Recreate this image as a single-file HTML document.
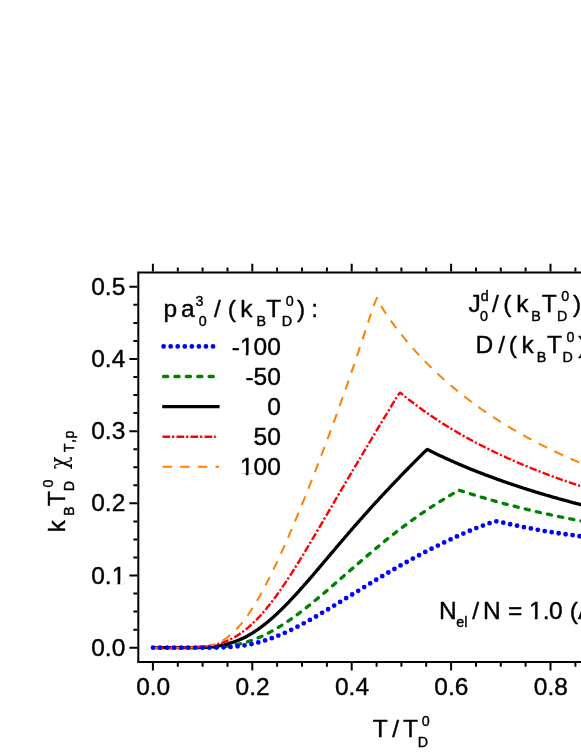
<!DOCTYPE html>
<html><head><meta charset="utf-8"><title>chart</title>
<style>html,body{margin:0;padding:0;background:#fff;}svg{display:block;}text{font-family:'Liberation Sans', sans-serif;fill:#000;stroke:#000;stroke-width:0.4px;stroke-linejoin:round;}</style>
</head><body>
<svg width="581" height="752" viewBox="0 0 581 752">
<rect x="0" y="0" width="581" height="752" fill="#fff"/>
<path d="M153.0 647.7 L154.0 647.7 L155.0 647.7 L156.0 647.7 L157.0 647.7 L158.0 647.7 L159.0 647.7 L160.0 647.7 L161.0 647.7 L162.0 647.7 L163.0 647.7 L164.0 647.7 L165.0 647.7 L166.0 647.7 L167.0 647.7 L168.0 647.7 L169.0 647.7 L170.0 647.7 L171.0 647.7 L172.0 647.7 L173.0 647.7 L174.0 647.7 L175.0 647.7 L176.0 647.7 L177.0 647.7 L178.0 647.7 L179.0 647.7 L180.0 647.7 L181.0 647.7 L182.0 647.7 L183.0 647.7 L184.0 647.7 L185.0 647.7 L186.0 647.7 L187.0 647.7 L188.0 647.7 L189.0 647.7 L190.0 647.7 L191.0 647.7 L192.0 647.7 L193.0 647.7 L194.0 647.7 L195.0 647.7 L196.0 647.7 L197.0 647.7 L198.0 647.7 L199.0 647.7 L200.0 647.7 L201.0 647.6 L202.0 647.6 L203.0 647.6 L204.0 647.6 L205.0 647.6 L206.0 647.6 L207.0 647.6 L208.0 647.5 L209.0 647.5 L210.0 647.5 L211.0 647.4 L212.0 647.4 L213.0 647.4 L214.0 647.3 L215.0 647.3 L216.0 647.2 L217.0 647.1 L218.0 647.1 L219.0 647.0 L220.0 646.9 L221.0 646.8 L222.0 646.7 L223.0 646.6 L224.0 646.5 L225.0 646.4 L226.0 646.3 L227.0 646.2 L228.0 646.1 L229.0 645.9 L230.0 645.8 L231.0 645.6 L232.0 645.5 L233.0 645.3 L234.0 645.1 L235.0 644.9 L236.0 644.7 L237.0 644.5 L238.0 644.3 L239.0 644.1 L240.0 643.8 L241.0 643.6 L242.0 643.3 L243.0 643.1 L244.0 642.8 L245.0 642.5 L246.0 642.2 L247.0 641.9 L248.0 641.6 L249.0 641.3 L250.0 640.9 L251.0 640.6 L252.0 640.2 L253.0 639.9 L254.0 639.5 L255.0 639.1 L256.0 638.7 L257.0 638.3 L258.0 637.9 L259.0 637.5 L260.0 637.1 L261.0 636.6 L262.0 636.2 L263.0 635.7 L264.0 635.2 L265.0 634.7 L266.0 634.2 L267.0 633.7 L268.0 633.2 L269.0 632.7 L270.0 632.2 L271.0 631.6 L272.0 631.1 L273.0 630.5 L274.0 630.0 L275.0 629.4 L276.0 628.8 L277.0 628.2 L278.0 627.6 L279.0 627.0 L280.0 626.4 L281.0 625.8 L282.0 625.1 L283.0 624.5 L284.0 623.8 L285.0 623.2 L286.0 622.5 L287.0 621.9 L288.0 621.2 L289.0 620.5 L290.0 619.8 L291.0 619.1 L292.0 618.4 L293.0 617.7 L294.0 617.0 L295.0 616.2 L296.0 615.5 L297.0 614.8 L298.0 614.0 L299.0 613.3 L300.0 612.5 L301.0 611.8 L302.0 611.0 L303.0 610.2 L304.0 609.4 L305.0 608.7 L306.0 607.9 L307.0 607.1 L308.0 606.3 L309.0 605.5 L310.0 604.7 L311.0 603.9 L312.0 603.1 L313.0 602.3 L314.0 601.4 L315.0 600.6 L316.0 599.8 L317.0 599.0 L318.0 598.1 L319.0 597.3 L320.0 596.5 L321.0 595.6 L322.0 594.8 L323.0 593.9 L324.0 593.1 L325.0 592.2 L326.0 591.4 L327.0 590.5 L328.0 589.7 L329.0 588.8 L330.0 587.9 L331.0 587.1 L332.0 586.2 L333.0 585.4 L334.0 584.5 L335.0 583.6 L336.0 582.8 L337.0 581.9 L338.0 581.0 L339.0 580.2 L340.0 579.3 L341.0 578.4 L342.0 577.5 L343.0 576.7 L344.0 575.8 L345.0 574.9 L346.0 574.1 L347.0 573.2 L348.0 572.3 L349.0 571.4 L350.0 570.6 L351.0 569.7 L352.0 568.8 L353.0 568.0 L354.0 567.1 L355.0 566.2 L356.0 565.4 L357.0 564.5 L358.0 563.6 L359.0 562.8 L360.0 561.9 L361.0 561.0 L362.0 560.2 L363.0 559.3 L364.0 558.5 L365.0 557.6 L366.0 556.8 L367.0 555.9 L368.0 555.1 L369.0 554.2 L370.0 553.4 L371.0 552.5 L372.0 551.7 L373.0 550.8 L374.0 550.0 L375.0 549.2 L376.0 548.3 L377.0 547.5 L378.0 546.7 L379.0 545.8 L380.0 545.0 L381.0 544.2 L382.0 543.4 L383.0 542.6 L384.0 541.8 L385.0 540.9 L386.0 540.1 L387.0 539.3 L388.0 538.5 L389.0 537.7 L390.0 536.9 L391.0 536.2 L392.0 535.4 L393.0 534.6 L394.0 533.8 L395.0 533.0 L396.0 532.2 L397.0 531.5 L398.0 530.7 L399.0 529.9 L400.0 529.2 L401.0 528.4 L402.0 527.6 L403.0 526.9 L404.0 526.1 L405.0 525.4 L406.0 524.7 L407.0 523.9 L408.0 523.2 L409.0 522.4 L410.0 521.7 L411.0 521.0 L412.0 520.3 L413.0 519.5 L414.0 518.8 L415.0 518.1 L416.0 517.4 L417.0 516.7 L418.0 516.0 L419.0 515.3 L420.0 514.6 L421.0 513.9 L422.0 513.2 L423.0 512.6 L424.0 511.9 L425.0 511.2 L426.0 510.5 L427.0 509.9 L428.0 509.2 L429.0 508.5 L430.0 507.9 L431.0 507.2 L432.0 506.6 L433.0 505.9 L434.0 505.3 L435.0 504.7 L436.0 504.0 L437.0 503.4 L438.0 502.8 L439.0 502.1 L440.0 501.5 L441.0 500.9 L442.0 500.3 L443.0 499.7 L444.0 499.1 L445.0 498.4 L446.0 497.8 L447.0 497.2 L448.0 496.6 L449.0 496.0 L450.0 495.4 L451.0 494.8 L452.0 494.2 L453.0 493.6 L454.0 493.0 L455.0 492.4 L456.0 491.8 L457.0 491.1 L458.0 490.4 L458.1 490.2 L459.0 490.3 L460.0 490.6 L461.0 490.9 L462.0 491.2 L463.0 491.5 L464.0 491.8 L465.0 492.1 L466.0 492.4 L467.0 492.7 L468.0 493.1 L469.0 493.4 L470.0 493.7 L471.0 494.0 L472.0 494.3 L473.0 494.6 L474.0 494.9 L475.0 495.2 L476.0 495.5 L477.0 495.8 L478.0 496.1 L479.0 496.4 L480.0 496.7 L481.0 497.0 L482.0 497.3 L483.0 497.6 L484.0 497.9 L485.0 498.2 L486.0 498.5 L487.0 498.8 L488.0 499.1 L489.0 499.4 L490.0 499.7 L491.0 500.0 L492.0 500.2 L493.0 500.5 L494.0 500.8 L495.0 501.1 L496.0 501.4 L497.0 501.7 L498.0 501.9 L499.0 502.2 L500.0 502.5 L501.0 502.8 L502.0 503.0 L503.0 503.3 L504.0 503.6 L505.0 503.8 L506.0 504.1 L507.0 504.4 L508.0 504.6 L509.0 504.9 L510.0 505.2 L511.0 505.4 L512.0 505.7 L513.0 505.9 L514.0 506.2 L515.0 506.4 L516.0 506.7 L517.0 507.0 L518.0 507.2 L519.0 507.5 L520.0 507.7 L521.0 508.0 L522.0 508.2 L523.0 508.4 L524.0 508.7 L525.0 508.9 L526.0 509.2 L527.0 509.4 L528.0 509.7 L529.0 509.9 L530.0 510.1 L531.0 510.4 L532.0 510.6 L533.0 510.8 L534.0 511.1 L535.0 511.3 L536.0 511.5 L537.0 511.8 L538.0 512.0 L539.0 512.2 L540.0 512.5 L541.0 512.7 L542.0 512.9 L543.0 513.1 L544.0 513.3 L545.0 513.6 L546.0 513.8 L547.0 514.0 L548.0 514.2 L549.0 514.4 L550.0 514.7 L551.0 514.9 L552.0 515.1 L553.0 515.3 L554.0 515.5 L555.0 515.7 L556.0 515.9 L557.0 516.1 L558.0 516.4 L559.0 516.6 L560.0 516.8 L561.0 517.0 L562.0 517.2 L563.0 517.4 L564.0 517.6 L565.0 517.8 L566.0 518.0 L567.0 518.2 L568.0 518.4 L569.0 518.6 L570.0 518.8 L571.0 519.0 L572.0 519.2 L573.0 519.4 L574.0 519.6 L575.0 519.7 L576.0 519.9 L577.0 520.1 L578.0 520.3 L579.0 520.5 L580.0 520.7 L581.0 520.9 L582.0 521.1 L583.0 521.3 L584.0 521.4 L585.0 521.6 L586.0 521.8" fill="none" stroke="#008000" stroke-width="3.3" stroke-linecap="round" stroke-linejoin="round" stroke-dasharray="4.2 7.2" stroke-dashoffset="7.62"/>
<path d="M153.0 647.7 L154.0 647.7 L155.0 647.7 L156.0 647.7 L157.0 647.7 L158.0 647.7 L159.0 647.7 L160.0 647.7 L161.0 647.7 L162.0 647.7 L163.0 647.7 L164.0 647.7 L165.0 647.7 L166.0 647.7 L167.0 647.7 L168.0 647.7 L169.0 647.7 L170.0 647.7 L171.0 647.7 L172.0 647.7 L173.0 647.7 L174.0 647.7 L175.0 647.7 L176.0 647.7 L177.0 647.7 L178.0 647.7 L179.0 647.7 L180.0 647.7 L181.0 647.7 L182.0 647.7 L183.0 647.7 L184.0 647.7 L185.0 647.7 L186.0 647.7 L187.0 647.7 L188.0 647.7 L189.0 647.7 L190.0 647.7 L191.0 647.7 L192.0 647.6 L193.0 647.6 L194.0 647.6 L195.0 647.6 L196.0 647.6 L197.0 647.6 L198.0 647.5 L199.0 647.5 L200.0 647.5 L201.0 647.4 L202.0 647.4 L203.0 647.3 L204.0 647.3 L205.0 647.2 L206.0 647.2 L207.0 647.1 L208.0 647.0 L209.0 647.0 L210.0 646.9 L211.0 646.8 L212.0 646.7 L213.0 646.6 L214.0 646.5 L215.0 646.3 L216.0 646.2 L217.0 646.1 L218.0 645.9 L219.0 645.7 L220.0 645.6 L221.0 645.4 L222.0 645.2 L223.0 645.0 L224.0 644.8 L225.0 644.5 L226.0 644.3 L227.0 644.1 L228.0 643.8 L229.0 643.5 L230.0 643.2 L231.0 642.9 L232.0 642.6 L233.0 642.3 L234.0 641.9 L235.0 641.6 L236.0 641.2 L237.0 640.8 L238.0 640.4 L239.0 640.0 L240.0 639.6 L241.0 639.1 L242.0 638.7 L243.0 638.2 L244.0 637.7 L245.0 637.2 L246.0 636.7 L247.0 636.2 L248.0 635.6 L249.0 635.1 L250.0 634.5 L251.0 633.9 L252.0 633.3 L253.0 632.7 L254.0 632.0 L255.0 631.4 L256.0 630.7 L257.0 630.0 L258.0 629.3 L259.0 628.6 L260.0 627.9 L261.0 627.2 L262.0 626.4 L263.0 625.7 L264.0 624.9 L265.0 624.1 L266.0 623.3 L267.0 622.5 L268.0 621.7 L269.0 620.8 L270.0 620.0 L271.0 619.1 L272.0 618.3 L273.0 617.4 L274.0 616.5 L275.0 615.6 L276.0 614.6 L277.0 613.7 L278.0 612.8 L279.0 611.8 L280.0 610.9 L281.0 609.9 L282.0 608.9 L283.0 607.9 L284.0 606.9 L285.0 605.9 L286.0 604.9 L287.0 603.9 L288.0 602.8 L289.0 601.8 L290.0 600.7 L291.0 599.7 L292.0 598.6 L293.0 597.5 L294.0 596.4 L295.0 595.4 L296.0 594.3 L297.0 593.2 L298.0 592.1 L299.0 591.0 L300.0 589.8 L301.0 588.7 L302.0 587.6 L303.0 586.5 L304.0 585.3 L305.0 584.2 L306.0 583.1 L307.0 581.9 L308.0 580.8 L309.0 579.6 L310.0 578.4 L311.0 577.3 L312.0 576.1 L313.0 575.0 L314.0 573.8 L315.0 572.6 L316.0 571.5 L317.0 570.3 L318.0 569.1 L319.0 567.9 L320.0 566.7 L321.0 565.6 L322.0 564.4 L323.0 563.2 L324.0 562.0 L325.0 560.8 L326.0 559.7 L327.0 558.5 L328.0 557.3 L329.0 556.1 L330.0 554.9 L331.0 553.7 L332.0 552.6 L333.0 551.4 L334.0 550.2 L335.0 549.0 L336.0 547.8 L337.0 546.7 L338.0 545.5 L339.0 544.3 L340.0 543.1 L341.0 542.0 L342.0 540.8 L343.0 539.6 L344.0 538.5 L345.0 537.3 L346.0 536.1 L347.0 535.0 L348.0 533.8 L349.0 532.6 L350.0 531.5 L351.0 530.3 L352.0 529.2 L353.0 528.0 L354.0 526.9 L355.0 525.7 L356.0 524.6 L357.0 523.4 L358.0 522.3 L359.0 521.2 L360.0 520.0 L361.0 518.9 L362.0 517.8 L363.0 516.6 L364.0 515.5 L365.0 514.4 L366.0 513.3 L367.0 512.2 L368.0 511.1 L369.0 509.9 L370.0 508.8 L371.0 507.7 L372.0 506.6 L373.0 505.5 L374.0 504.4 L375.0 503.3 L376.0 502.2 L377.0 501.1 L378.0 500.1 L379.0 499.0 L380.0 497.9 L381.0 496.8 L382.0 495.7 L383.0 494.7 L384.0 493.6 L385.0 492.5 L386.0 491.4 L387.0 490.4 L388.0 489.3 L389.0 488.3 L390.0 487.2 L391.0 486.1 L392.0 485.1 L393.0 484.0 L394.0 483.0 L395.0 481.9 L396.0 480.9 L397.0 479.8 L398.0 478.8 L399.0 477.8 L400.0 476.7 L401.0 475.7 L402.0 474.6 L403.0 473.6 L404.0 472.6 L405.0 471.5 L406.0 470.5 L407.0 469.5 L408.0 468.5 L409.0 467.4 L410.0 466.4 L411.0 465.4 L412.0 464.4 L413.0 463.4 L414.0 462.3 L415.0 461.3 L416.0 460.3 L417.0 459.3 L418.0 458.3 L419.0 457.3 L420.0 456.3 L421.0 455.3 L422.0 454.3 L423.0 453.3 L424.0 452.4 L425.0 451.4 L426.0 450.5 L427.0 449.6 L427.3 449.5 L428.0 449.8 L429.0 450.3 L430.0 450.8 L431.0 451.3 L432.0 451.8 L433.0 452.3 L434.0 452.8 L435.0 453.3 L436.0 453.8 L437.0 454.2 L438.0 454.7 L439.0 455.2 L440.0 455.7 L441.0 456.1 L442.0 456.6 L443.0 457.1 L444.0 457.5 L445.0 458.0 L446.0 458.4 L447.0 458.9 L448.0 459.3 L449.0 459.8 L450.0 460.2 L451.0 460.7 L452.0 461.1 L453.0 461.6 L454.0 462.0 L455.0 462.4 L456.0 462.9 L457.0 463.3 L458.0 463.7 L459.0 464.2 L460.0 464.6 L461.0 465.0 L462.0 465.5 L463.0 465.9 L464.0 466.3 L465.0 466.7 L466.0 467.1 L467.0 467.5 L468.0 468.0 L469.0 468.4 L470.0 468.8 L471.0 469.2 L472.0 469.6 L473.0 470.0 L474.0 470.4 L475.0 470.8 L476.0 471.2 L477.0 471.6 L478.0 472.0 L479.0 472.4 L480.0 472.7 L481.0 473.1 L482.0 473.5 L483.0 473.9 L484.0 474.3 L485.0 474.7 L486.0 475.1 L487.0 475.4 L488.0 475.8 L489.0 476.2 L490.0 476.5 L491.0 476.9 L492.0 477.3 L493.0 477.7 L494.0 478.0 L495.0 478.4 L496.0 478.7 L497.0 479.1 L498.0 479.5 L499.0 479.8 L500.0 480.2 L501.0 480.5 L502.0 480.9 L503.0 481.2 L504.0 481.6 L505.0 481.9 L506.0 482.3 L507.0 482.6 L508.0 483.0 L509.0 483.3 L510.0 483.7 L511.0 484.0 L512.0 484.3 L513.0 484.7 L514.0 485.0 L515.0 485.3 L516.0 485.7 L517.0 486.0 L518.0 486.3 L519.0 486.7 L520.0 487.0 L521.0 487.3 L522.0 487.6 L523.0 488.0 L524.0 488.3 L525.0 488.6 L526.0 488.9 L527.0 489.2 L528.0 489.6 L529.0 489.9 L530.0 490.2 L531.0 490.5 L532.0 490.8 L533.0 491.1 L534.0 491.4 L535.0 491.7 L536.0 492.1 L537.0 492.4 L538.0 492.7 L539.0 493.0 L540.0 493.3 L541.0 493.6 L542.0 493.9 L543.0 494.2 L544.0 494.5 L545.0 494.8 L546.0 495.0 L547.0 495.3 L548.0 495.6 L549.0 495.9 L550.0 496.2 L551.0 496.5 L552.0 496.8 L553.0 497.1 L554.0 497.4 L555.0 497.6 L556.0 497.9 L557.0 498.2 L558.0 498.5 L559.0 498.8 L560.0 499.0 L561.0 499.3 L562.0 499.6 L563.0 499.9 L564.0 500.1 L565.0 500.4 L566.0 500.7 L567.0 501.0 L568.0 501.2 L569.0 501.5 L570.0 501.8 L571.0 502.0 L572.0 502.3 L573.0 502.6 L574.0 502.8 L575.0 503.1 L576.0 503.4 L577.0 503.6 L578.0 503.9 L579.0 504.1 L580.0 504.4 L581.0 504.7 L582.0 504.9 L583.0 505.2 L584.0 505.4 L585.0 505.7 L586.0 505.9" fill="none" stroke="#000000" stroke-width="3.3" stroke-linejoin="miter"/>
<path d="M153.0 647.7 L154.0 647.7 L155.0 647.7 L156.0 647.7 L157.0 647.7 L158.0 647.7 L159.0 647.7 L160.0 647.7 L161.0 647.7 L162.0 647.7 L163.0 647.7 L164.0 647.7 L165.0 647.7 L166.0 647.7 L167.0 647.7 L168.0 647.7 L169.0 647.7 L170.0 647.7 L171.0 647.7 L172.0 647.7 L173.0 647.7 L174.0 647.7 L175.0 647.7 L176.0 647.7 L177.0 647.7 L178.0 647.7 L179.0 647.7 L180.0 647.7 L181.0 647.6 L182.0 647.6 L183.0 647.6 L184.0 647.6 L185.0 647.6 L186.0 647.6 L187.0 647.6 L188.0 647.5 L189.0 647.5 L190.0 647.5 L191.0 647.5 L192.0 647.4 L193.0 647.4 L194.0 647.3 L195.0 647.3 L196.0 647.2 L197.0 647.2 L198.0 647.1 L199.0 647.0 L200.0 647.0 L201.0 646.9 L202.0 646.8 L203.0 646.7 L204.0 646.6 L205.0 646.5 L206.0 646.3 L207.0 646.2 L208.0 646.1 L209.0 645.9 L210.0 645.7 L211.0 645.6 L212.0 645.4 L213.0 645.2 L214.0 645.0 L215.0 644.7 L216.0 644.5 L217.0 644.2 L218.0 644.0 L219.0 643.7 L220.0 643.4 L221.0 643.1 L222.0 642.8 L223.0 642.4 L224.0 642.1 L225.0 641.7 L226.0 641.3 L227.0 640.9 L228.0 640.4 L229.0 640.0 L230.0 639.5 L231.0 639.0 L232.0 638.5 L233.0 638.0 L234.0 637.4 L235.0 636.9 L236.0 636.3 L237.0 635.7 L238.0 635.0 L239.0 634.4 L240.0 633.7 L241.0 633.0 L242.0 632.3 L243.0 631.6 L244.0 630.8 L245.0 630.1 L246.0 629.3 L247.0 628.5 L248.0 627.6 L249.0 626.8 L250.0 625.9 L251.0 625.0 L252.0 624.1 L253.0 623.1 L254.0 622.2 L255.0 621.2 L256.0 620.2 L257.0 619.2 L258.0 618.1 L259.0 617.0 L260.0 616.0 L261.0 614.9 L262.0 613.7 L263.0 612.6 L264.0 611.4 L265.0 610.3 L266.0 609.1 L267.0 607.8 L268.0 606.6 L269.0 605.4 L270.0 604.1 L271.0 602.8 L272.0 601.5 L273.0 600.2 L274.0 598.9 L275.0 597.5 L276.0 596.2 L277.0 594.8 L278.0 593.4 L279.0 592.0 L280.0 590.6 L281.0 589.1 L282.0 587.7 L283.0 586.2 L284.0 584.7 L285.0 583.3 L286.0 581.8 L287.0 580.2 L288.0 578.7 L289.0 577.2 L290.0 575.7 L291.0 574.1 L292.0 572.6 L293.0 571.0 L294.0 569.4 L295.0 567.8 L296.0 566.2 L297.0 564.6 L298.0 563.0 L299.0 561.4 L300.0 559.8 L301.0 558.1 L302.0 556.5 L303.0 554.9 L304.0 553.2 L305.0 551.6 L306.0 549.9 L307.0 548.2 L308.0 546.6 L309.0 544.9 L310.0 543.2 L311.0 541.5 L312.0 539.8 L313.0 538.2 L314.0 536.5 L315.0 534.8 L316.0 533.1 L317.0 531.4 L318.0 529.7 L319.0 528.0 L320.0 526.3 L321.0 524.6 L322.0 522.9 L323.0 521.2 L324.0 519.4 L325.0 517.7 L326.0 516.0 L327.0 514.3 L328.0 512.6 L329.0 510.9 L330.0 509.2 L331.0 507.5 L332.0 505.8 L333.0 504.0 L334.0 502.3 L335.0 500.6 L336.0 498.9 L337.0 497.2 L338.0 495.5 L339.0 493.8 L340.0 492.1 L341.0 490.4 L342.0 488.7 L343.0 487.0 L344.0 485.3 L345.0 483.6 L346.0 481.9 L347.0 480.2 L348.0 478.5 L349.0 476.8 L350.0 475.1 L351.0 473.4 L352.0 471.7 L353.0 470.0 L354.0 468.3 L355.0 466.7 L356.0 465.0 L357.0 463.3 L358.0 461.6 L359.0 459.9 L360.0 458.2 L361.0 456.6 L362.0 454.9 L363.0 453.2 L364.0 451.5 L365.0 449.9 L366.0 448.2 L367.0 446.5 L368.0 444.8 L369.0 443.2 L370.0 441.5 L371.0 439.8 L372.0 438.2 L373.0 436.5 L374.0 434.8 L375.0 433.2 L376.0 431.5 L377.0 429.8 L378.0 428.1 L379.0 426.5 L380.0 424.8 L381.0 423.2 L382.0 421.5 L383.0 419.8 L384.0 418.2 L385.0 416.5 L386.0 414.8 L387.0 413.2 L388.0 411.5 L389.0 409.9 L390.0 408.2 L391.0 406.6 L392.0 404.9 L393.0 403.3 L394.0 401.7 L395.0 400.0 L396.0 398.4 L397.0 396.9 L398.0 395.3 L399.0 393.9 L400.0 392.6 L400.3 392.6 L401.0 393.3 L402.0 394.1 L403.0 394.9 L404.0 395.8 L405.0 396.6 L406.0 397.4 L407.0 398.2 L408.0 399.0 L409.0 399.8 L410.0 400.5 L411.0 401.3 L412.0 402.1 L413.0 402.8 L414.0 403.6 L415.0 404.3 L416.0 405.1 L417.0 405.8 L418.0 406.6 L419.0 407.3 L420.0 408.0 L421.0 408.8 L422.0 409.5 L423.0 410.2 L424.0 410.9 L425.0 411.6 L426.0 412.3 L427.0 413.0 L428.0 413.7 L429.0 414.4 L430.0 415.1 L431.0 415.8 L432.0 416.4 L433.0 417.1 L434.0 417.8 L435.0 418.4 L436.0 419.1 L437.0 419.8 L438.0 420.4 L439.0 421.1 L440.0 421.7 L441.0 422.3 L442.0 423.0 L443.0 423.6 L444.0 424.2 L445.0 424.9 L446.0 425.5 L447.0 426.1 L448.0 426.7 L449.0 427.3 L450.0 428.0 L451.0 428.6 L452.0 429.2 L453.0 429.8 L454.0 430.4 L455.0 430.9 L456.0 431.5 L457.0 432.1 L458.0 432.7 L459.0 433.3 L460.0 433.9 L461.0 434.4 L462.0 435.0 L463.0 435.6 L464.0 436.1 L465.0 436.7 L466.0 437.3 L467.0 437.8 L468.0 438.4 L469.0 438.9 L470.0 439.5 L471.0 440.0 L472.0 440.5 L473.0 441.1 L474.0 441.6 L475.0 442.1 L476.0 442.7 L477.0 443.2 L478.0 443.7 L479.0 444.2 L480.0 444.8 L481.0 445.3 L482.0 445.8 L483.0 446.3 L484.0 446.8 L485.0 447.3 L486.0 447.8 L487.0 448.3 L488.0 448.8 L489.0 449.3 L490.0 449.8 L491.0 450.3 L492.0 450.8 L493.0 451.3 L494.0 451.7 L495.0 452.2 L496.0 452.7 L497.0 453.2 L498.0 453.7 L499.0 454.1 L500.0 454.6 L501.0 455.1 L502.0 455.5 L503.0 456.0 L504.0 456.4 L505.0 456.9 L506.0 457.4 L507.0 457.8 L508.0 458.3 L509.0 458.7 L510.0 459.2 L511.0 459.6 L512.0 460.0 L513.0 460.5 L514.0 460.9 L515.0 461.4 L516.0 461.8 L517.0 462.2 L518.0 462.7 L519.0 463.1 L520.0 463.5 L521.0 463.9 L522.0 464.4 L523.0 464.8 L524.0 465.2 L525.0 465.6 L526.0 466.0 L527.0 466.4 L528.0 466.9 L529.0 467.3 L530.0 467.7 L531.0 468.1 L532.0 468.5 L533.0 468.9 L534.0 469.3 L535.0 469.7 L536.0 470.1 L537.0 470.5 L538.0 470.9 L539.0 471.2 L540.0 471.6 L541.0 472.0 L542.0 472.4 L543.0 472.8 L544.0 473.2 L545.0 473.6 L546.0 473.9 L547.0 474.3 L548.0 474.7 L549.0 475.1 L550.0 475.4 L551.0 475.8 L552.0 476.2 L553.0 476.5 L554.0 476.9 L555.0 477.3 L556.0 477.6 L557.0 478.0 L558.0 478.4 L559.0 478.7 L560.0 479.1 L561.0 479.4 L562.0 479.8 L563.0 480.1 L564.0 480.5 L565.0 480.8 L566.0 481.2 L567.0 481.5 L568.0 481.9 L569.0 482.2 L570.0 482.6 L571.0 482.9 L572.0 483.2 L573.0 483.6 L574.0 483.9 L575.0 484.2 L576.0 484.6 L577.0 484.9 L578.0 485.2 L579.0 485.6 L580.0 485.9 L581.0 486.2 L582.0 486.6 L583.0 486.9 L584.0 487.2 L585.0 487.5 L586.0 487.8" fill="none" stroke="#ff0000" stroke-width="2.4" stroke-linejoin="round" stroke-dasharray="7.6 2 2.2 2.2" stroke-dashoffset="1.12"/>
<path d="M153.0 647.7 L154.0 647.7 L155.0 647.7 L156.0 647.7 L157.0 647.7 L158.0 647.7 L159.0 647.7 L160.0 647.7 L161.0 647.7 L162.0 647.7 L163.0 647.7 L164.0 647.7 L165.0 647.7 L166.0 647.7 L167.0 647.7 L168.0 647.7 L169.0 647.7 L170.0 647.7 L171.0 647.7 L172.0 647.7 L173.0 647.7 L174.0 647.7 L175.0 647.7 L176.0 647.7 L177.0 647.7 L178.0 647.7 L179.0 647.7 L180.0 647.7 L181.0 647.7 L182.0 647.7 L183.0 647.7 L184.0 647.7 L185.0 647.7 L186.0 647.7 L187.0 647.7 L188.0 647.7 L189.0 647.7 L190.0 647.6 L191.0 647.6 L192.0 647.6 L193.0 647.6 L194.0 647.6 L195.0 647.5 L196.0 647.5 L197.0 647.4 L198.0 647.4 L199.0 647.3 L200.0 647.2 L201.0 647.1 L202.0 647.0 L203.0 646.9 L204.0 646.8 L205.0 646.6 L206.0 646.5 L207.0 646.3 L208.0 646.1 L209.0 645.9 L210.0 645.7 L211.0 645.4 L212.0 645.1 L213.0 644.8 L214.0 644.5 L215.0 644.1 L216.0 643.7 L217.0 643.3 L218.0 642.9 L219.0 642.4 L220.0 641.9 L221.0 641.4 L222.0 640.9 L223.0 640.3 L224.0 639.7 L225.0 639.0 L226.0 638.3 L227.0 637.6 L228.0 636.9 L229.0 636.1 L230.0 635.3 L231.0 634.4 L232.0 633.5 L233.0 632.6 L234.0 631.7 L235.0 630.7 L236.0 629.7 L237.0 628.6 L238.0 627.5 L239.0 626.4 L240.0 625.2 L241.0 624.1 L242.0 622.8 L243.0 621.6 L244.0 620.3 L245.0 619.0 L246.0 617.6 L247.0 616.2 L248.0 614.8 L249.0 613.3 L250.0 611.9 L251.0 610.4 L252.0 608.8 L253.0 607.2 L254.0 605.6 L255.0 604.0 L256.0 602.4 L257.0 600.7 L258.0 599.0 L259.0 597.2 L260.0 595.5 L261.0 593.7 L262.0 591.9 L263.0 590.0 L264.0 588.2 L265.0 586.3 L266.0 584.4 L267.0 582.5 L268.0 580.5 L269.0 578.5 L270.0 576.5 L271.0 574.5 L272.0 572.5 L273.0 570.4 L274.0 568.4 L275.0 566.3 L276.0 564.2 L277.0 562.1 L278.0 559.9 L279.0 557.8 L280.0 555.6 L281.0 553.4 L282.0 551.2 L283.0 549.0 L284.0 546.7 L285.0 544.5 L286.0 542.2 L287.0 540.0 L288.0 537.7 L289.0 535.4 L290.0 533.1 L291.0 530.7 L292.0 528.4 L293.0 526.0 L294.0 523.7 L295.0 521.3 L296.0 518.9 L297.0 516.5 L298.0 514.1 L299.0 511.7 L300.0 509.3 L301.0 506.9 L302.0 504.4 L303.0 502.0 L304.0 499.5 L305.0 497.0 L306.0 494.6 L307.0 492.1 L308.0 489.6 L309.0 487.1 L310.0 484.5 L311.0 482.0 L312.0 479.5 L313.0 477.0 L314.0 474.4 L315.0 471.8 L316.0 469.3 L317.0 466.7 L318.0 464.1 L319.0 461.5 L320.0 458.9 L321.0 456.3 L322.0 453.7 L323.0 451.1 L324.0 448.4 L325.0 445.8 L326.0 443.1 L327.0 440.5 L328.0 437.8 L329.0 435.1 L330.0 432.4 L331.0 429.7 L332.0 427.0 L333.0 424.3 L334.0 421.6 L335.0 418.8 L336.0 416.1 L337.0 413.3 L338.0 410.6 L339.0 407.8 L340.0 405.0 L341.0 402.2 L342.0 399.4 L343.0 396.6 L344.0 393.7 L345.0 390.9 L346.0 388.1 L347.0 385.2 L348.0 382.3 L349.0 379.4 L350.0 376.5 L351.0 373.6 L352.0 370.7 L353.0 367.8 L354.0 364.8 L355.0 361.9 L356.0 358.9 L357.0 356.0 L358.0 353.0 L359.0 350.0 L360.0 347.0 L361.0 344.0 L362.0 341.0 L363.0 337.9 L364.0 334.9 L365.0 331.9 L366.0 328.8 L367.0 325.8 L368.0 322.8 L369.0 319.7 L370.0 316.7 L371.0 313.7 L372.0 310.8 L373.0 307.9 L374.0 305.0 L375.0 302.3 L376.0 299.8 L377.0 297.9 L377.5 298.5 L378.0 300.1 L379.0 302.2 L380.0 304.0 L381.0 305.8 L382.0 307.4 L383.0 309.0 L384.0 310.6 L385.0 312.2 L386.0 313.7 L387.0 315.2 L388.0 316.6 L389.0 318.1 L390.0 319.5 L391.0 320.9 L392.0 322.3 L393.0 323.7 L394.0 325.1 L395.0 326.4 L396.0 327.7 L397.0 329.0 L398.0 330.3 L399.0 331.6 L400.0 332.9 L401.0 334.2 L402.0 335.4 L403.0 336.7 L404.0 337.9 L405.0 339.1 L406.0 340.3 L407.0 341.5 L408.0 342.7 L409.0 343.9 L410.0 345.0 L411.0 346.2 L412.0 347.3 L413.0 348.4 L414.0 349.6 L415.0 350.7 L416.0 351.8 L417.0 352.9 L418.0 354.0 L419.0 355.0 L420.0 356.1 L421.0 357.2 L422.0 358.2 L423.0 359.3 L424.0 360.3 L425.0 361.3 L426.0 362.4 L427.0 363.4 L428.0 364.4 L429.0 365.4 L430.0 366.4 L431.0 367.3 L432.0 368.3 L433.0 369.3 L434.0 370.2 L435.0 371.2 L436.0 372.2 L437.0 373.1 L438.0 374.0 L439.0 375.0 L440.0 375.9 L441.0 376.8 L442.0 377.7 L443.0 378.6 L444.0 379.5 L445.0 380.4 L446.0 381.3 L447.0 382.1 L448.0 383.0 L449.0 383.9 L450.0 384.7 L451.0 385.6 L452.0 386.4 L453.0 387.3 L454.0 388.1 L455.0 388.9 L456.0 389.8 L457.0 390.6 L458.0 391.4 L459.0 392.2 L460.0 393.0 L461.0 393.8 L462.0 394.6 L463.0 395.4 L464.0 396.2 L465.0 397.0 L466.0 397.7 L467.0 398.5 L468.0 399.3 L469.0 400.0 L470.0 400.8 L471.0 401.5 L472.0 402.3 L473.0 403.0 L474.0 403.8 L475.0 404.5 L476.0 405.2 L477.0 405.9 L478.0 406.7 L479.0 407.4 L480.0 408.1 L481.0 408.8 L482.0 409.5 L483.0 410.2 L484.0 410.9 L485.0 411.6 L486.0 412.3 L487.0 412.9 L488.0 413.6 L489.0 414.3 L490.0 415.0 L491.0 415.6 L492.0 416.3 L493.0 416.9 L494.0 417.6 L495.0 418.3 L496.0 418.9 L497.0 419.5 L498.0 420.2 L499.0 420.8 L500.0 421.5 L501.0 422.1 L502.0 422.7 L503.0 423.3 L504.0 423.9 L505.0 424.6 L506.0 425.2 L507.0 425.8 L508.0 426.4 L509.0 427.0 L510.0 427.6 L511.0 428.2 L512.0 428.8 L513.0 429.4 L514.0 429.9 L515.0 430.5 L516.0 431.1 L517.0 431.7 L518.0 432.3 L519.0 432.8 L520.0 433.4 L521.0 434.0 L522.0 434.5 L523.0 435.1 L524.0 435.6 L525.0 436.2 L526.0 436.7 L527.0 437.3 L528.0 437.8 L529.0 438.4 L530.0 438.9 L531.0 439.4 L532.0 440.0 L533.0 440.5 L534.0 441.0 L535.0 441.6 L536.0 442.1 L537.0 442.6 L538.0 443.1 L539.0 443.6 L540.0 444.1 L541.0 444.7 L542.0 445.2 L543.0 445.7 L544.0 446.2 L545.0 446.7 L546.0 447.2 L547.0 447.7 L548.0 448.1 L549.0 448.6 L550.0 449.1 L551.0 449.6 L552.0 450.1 L553.0 450.6 L554.0 451.0 L555.0 451.5 L556.0 452.0 L557.0 452.5 L558.0 452.9 L559.0 453.4 L560.0 453.9 L561.0 454.3 L562.0 454.8 L563.0 455.2 L564.0 455.7 L565.0 456.2 L566.0 456.6 L567.0 457.1 L568.0 457.5 L569.0 457.9 L570.0 458.4 L571.0 458.8 L572.0 459.3 L573.0 459.7 L574.0 460.1 L575.0 460.6 L576.0 461.0 L577.0 461.4 L578.0 461.9 L579.0 462.3 L580.0 462.7 L581.0 463.1 L582.0 463.6 L583.0 464.0 L584.0 464.4 L585.0 464.8 L586.0 465.2" fill="none" stroke="#ff8000" stroke-width="2" stroke-linejoin="round" stroke-dasharray="9.4 8.25" stroke-dashoffset="17.39"/>
<path d="M153.0 647.7 L154.0 647.7 L155.0 647.7 L156.0 647.7 L157.0 647.7 L158.0 647.7 L159.0 647.7 L160.0 647.7 L161.0 647.7 L162.0 647.7 L163.0 647.7 L164.0 647.7 L165.0 647.7 L166.0 647.7 L167.0 647.7 L168.0 647.7 L169.0 647.7 L170.0 647.7 L171.0 647.7 L172.0 647.7 L173.0 647.7 L174.0 647.7 L175.0 647.7 L176.0 647.7 L177.0 647.7 L178.0 647.7 L179.0 647.7 L180.0 647.7 L181.0 647.7 L182.0 647.7 L183.0 647.7 L184.0 647.7 L185.0 647.7 L186.0 647.7 L187.0 647.7 L188.0 647.7 L189.0 647.7 L190.0 647.7 L191.0 647.7 L192.0 647.7 L193.0 647.7 L194.0 647.7 L195.0 647.7 L196.0 647.7 L197.0 647.7 L198.0 647.7 L199.0 647.7 L200.0 647.7 L201.0 647.7 L202.0 647.7 L203.0 647.7 L204.0 647.7 L205.0 647.7 L206.0 647.7 L207.0 647.7 L208.0 647.7 L209.0 647.7 L210.0 647.7 L211.0 647.6 L212.0 647.6 L213.0 647.6 L214.0 647.6 L215.0 647.6 L216.0 647.6 L217.0 647.6 L218.0 647.5 L219.0 647.5 L220.0 647.5 L221.0 647.5 L222.0 647.4 L223.0 647.4 L224.0 647.3 L225.0 647.3 L226.0 647.2 L227.0 647.2 L228.0 647.1 L229.0 647.1 L230.0 647.0 L231.0 646.9 L232.0 646.8 L233.0 646.8 L234.0 646.7 L235.0 646.6 L236.0 646.5 L237.0 646.4 L238.0 646.3 L239.0 646.1 L240.0 646.0 L241.0 645.9 L242.0 645.7 L243.0 645.6 L244.0 645.4 L245.0 645.3 L246.0 645.1 L247.0 644.9 L248.0 644.7 L249.0 644.6 L250.0 644.4 L251.0 644.2 L252.0 643.9 L253.0 643.7 L254.0 643.5 L255.0 643.3 L256.0 643.0 L257.0 642.8 L258.0 642.5 L259.0 642.2 L260.0 642.0 L261.0 641.7 L262.0 641.4 L263.0 641.1 L264.0 640.8 L265.0 640.5 L266.0 640.2 L267.0 639.8 L268.0 639.5 L269.0 639.1 L270.0 638.8 L271.0 638.4 L272.0 638.1 L273.0 637.7 L274.0 637.3 L275.0 636.9 L276.0 636.6 L277.0 636.2 L278.0 635.7 L279.0 635.3 L280.0 634.9 L281.0 634.5 L282.0 634.1 L283.0 633.6 L284.0 633.2 L285.0 632.7 L286.0 632.3 L287.0 631.8 L288.0 631.4 L289.0 630.9 L290.0 630.4 L291.0 629.9 L292.0 629.4 L293.0 628.9 L294.0 628.4 L295.0 627.9 L296.0 627.4 L297.0 626.9 L298.0 626.4 L299.0 625.9 L300.0 625.4 L301.0 624.8 L302.0 624.3 L303.0 623.8 L304.0 623.2 L305.0 622.7 L306.0 622.1 L307.0 621.6 L308.0 621.0 L309.0 620.5 L310.0 619.9 L311.0 619.3 L312.0 618.8 L313.0 618.2 L314.0 617.6 L315.0 617.0 L316.0 616.5 L317.0 615.9 L318.0 615.3 L319.0 614.7 L320.0 614.1 L321.0 613.5 L322.0 612.9 L323.0 612.3 L324.0 611.7 L325.0 611.1 L326.0 610.5 L327.0 609.9 L328.0 609.3 L329.0 608.7 L330.0 608.1 L331.0 607.5 L332.0 606.9 L333.0 606.3 L334.0 605.7 L335.0 605.1 L336.0 604.5 L337.0 603.9 L338.0 603.2 L339.0 602.6 L340.0 602.0 L341.0 601.4 L342.0 600.8 L343.0 600.2 L344.0 599.5 L345.0 598.9 L346.0 598.3 L347.0 597.7 L348.0 597.1 L349.0 596.4 L350.0 595.8 L351.0 595.2 L352.0 594.6 L353.0 594.0 L354.0 593.3 L355.0 592.7 L356.0 592.1 L357.0 591.5 L358.0 590.9 L359.0 590.3 L360.0 589.6 L361.0 589.0 L362.0 588.4 L363.0 587.8 L364.0 587.2 L365.0 586.6 L366.0 586.0 L367.0 585.3 L368.0 584.7 L369.0 584.1 L370.0 583.5 L371.0 582.9 L372.0 582.3 L373.0 581.7 L374.0 581.1 L375.0 580.5 L376.0 579.9 L377.0 579.3 L378.0 578.7 L379.0 578.1 L380.0 577.5 L381.0 576.9 L382.0 576.3 L383.0 575.7 L384.0 575.1 L385.0 574.5 L386.0 573.9 L387.0 573.3 L388.0 572.7 L389.0 572.1 L390.0 571.6 L391.0 571.0 L392.0 570.4 L393.0 569.8 L394.0 569.2 L395.0 568.7 L396.0 568.1 L397.0 567.5 L398.0 566.9 L399.0 566.4 L400.0 565.8 L401.0 565.2 L402.0 564.6 L403.0 564.1 L404.0 563.5 L405.0 563.0 L406.0 562.4 L407.0 561.8 L408.0 561.3 L409.0 560.7 L410.0 560.2 L411.0 559.6 L412.0 559.1 L413.0 558.5 L414.0 558.0 L415.0 557.4 L416.0 556.9 L417.0 556.4 L418.0 555.8 L419.0 555.3 L420.0 554.8 L421.0 554.2 L422.0 553.7 L423.0 553.2 L424.0 552.6 L425.0 552.1 L426.0 551.6 L427.0 551.1 L428.0 550.5 L429.0 550.0 L430.0 549.5 L431.0 549.0 L432.0 548.5 L433.0 548.0 L434.0 547.5 L435.0 547.0 L436.0 546.5 L437.0 546.0 L438.0 545.5 L439.0 545.0 L440.0 544.5 L441.0 544.0 L442.0 543.5 L443.0 543.0 L444.0 542.5 L445.0 542.1 L446.0 541.6 L447.0 541.1 L448.0 540.6 L449.0 540.1 L450.0 539.7 L451.0 539.2 L452.0 538.7 L453.0 538.3 L454.0 537.8 L455.0 537.3 L456.0 536.9 L457.0 536.4 L458.0 536.0 L459.0 535.5 L460.0 535.1 L461.0 534.6 L462.0 534.2 L463.0 533.7 L464.0 533.3 L465.0 532.9 L466.0 532.4 L467.0 532.0 L468.0 531.6 L469.0 531.1 L470.0 530.7 L471.0 530.3 L472.0 529.9 L473.0 529.5 L474.0 529.1 L475.0 528.6 L476.0 528.2 L477.0 527.8 L478.0 527.4 L479.0 527.0 L480.0 526.6 L481.0 526.3 L482.0 525.9 L483.0 525.5 L484.0 525.1 L485.0 524.7 L486.0 524.4 L487.0 524.0 L488.0 523.7 L489.0 523.3 L490.0 523.0 L491.0 522.6 L492.0 522.3 L493.0 522.0 L494.0 521.7 L495.0 521.5 L496.0 521.3 L496.5 521.4 L497.0 521.4 L498.0 521.6 L499.0 521.8 L500.0 522.0 L501.0 522.2 L502.0 522.4 L503.0 522.6 L504.0 522.9 L505.0 523.1 L506.0 523.3 L507.0 523.5 L508.0 523.8 L509.0 524.0 L510.0 524.2 L511.0 524.4 L512.0 524.6 L513.0 524.9 L514.0 525.1 L515.0 525.3 L516.0 525.5 L517.0 525.7 L518.0 525.9 L519.0 526.1 L520.0 526.3 L521.0 526.6 L522.0 526.8 L523.0 527.0 L524.0 527.2 L525.0 527.4 L526.0 527.6 L527.0 527.8 L528.0 528.0 L529.0 528.2 L530.0 528.3 L531.0 528.5 L532.0 528.7 L533.0 528.9 L534.0 529.1 L535.0 529.3 L536.0 529.5 L537.0 529.7 L538.0 529.8 L539.0 530.0 L540.0 530.2 L541.0 530.4 L542.0 530.6 L543.0 530.7 L544.0 530.9 L545.0 531.1 L546.0 531.2 L547.0 531.4 L548.0 531.6 L549.0 531.7 L550.0 531.9 L551.0 532.1 L552.0 532.2 L553.0 532.4 L554.0 532.5 L555.0 532.7 L556.0 532.9 L557.0 533.0 L558.0 533.2 L559.0 533.3 L560.0 533.5 L561.0 533.6 L562.0 533.8 L563.0 533.9 L564.0 534.0 L565.0 534.2 L566.0 534.3 L567.0 534.5 L568.0 534.6 L569.0 534.7 L570.0 534.9 L571.0 535.0 L572.0 535.1 L573.0 535.3 L574.0 535.4 L575.0 535.5 L576.0 535.7 L577.0 535.8 L578.0 535.9 L579.0 536.1 L580.0 536.2 L581.0 536.3 L582.0 536.4 L583.0 536.5 L584.0 536.7 L585.0 536.8 L586.0 536.9" fill="none" stroke="#0000ff" stroke-width="4.8" stroke-linecap="round" stroke-dasharray="0 7.0536"/>
<g stroke="#000" stroke-width="2" fill="none" stroke-linecap="butt">
<path d="M137.3 272.4 H600"/>
<path d="M137.3 661.9 H600"/>
<path d="M138.3 272.4 V661.9"/>
<path d="M152.9 662.9 v7.7 M152.9 271.4 v-7.7 M177.8 662.9 v3.9 M177.8 271.4 v-3.9 M202.6 662.9 v3.9 M202.6 271.4 v-3.9 M227.5 662.9 v3.9 M227.5 271.4 v-3.9 M252.3 662.9 v7.7 M252.3 271.4 v-7.7 M277.1 662.9 v3.9 M277.1 271.4 v-3.9 M302.0 662.9 v3.9 M302.0 271.4 v-3.9 M326.9 662.9 v3.9 M326.9 271.4 v-3.9 M351.7 662.9 v7.7 M351.7 271.4 v-7.7 M376.6 662.9 v3.9 M376.6 271.4 v-3.9 M401.4 662.9 v3.9 M401.4 271.4 v-3.9 M426.2 662.9 v3.9 M426.2 271.4 v-3.9 M451.1 662.9 v7.7 M451.1 271.4 v-7.7 M476.0 662.9 v3.9 M476.0 271.4 v-3.9 M500.8 662.9 v3.9 M500.8 271.4 v-3.9 M525.6 662.9 v3.9 M525.6 271.4 v-3.9 M550.5 662.9 v7.7 M550.5 271.4 v-7.7 M575.4 662.9 v3.9 M575.4 271.4 v-3.9 M137.3 647.7 h-7.9 M137.3 629.7 h-3.9 M137.3 611.6 h-3.9 M137.3 593.6 h-3.9 M137.3 575.5 h-7.9 M137.3 557.5 h-3.9 M137.3 539.4 h-3.9 M137.3 521.4 h-3.9 M137.3 503.3 h-7.9 M137.3 485.3 h-3.9 M137.3 467.3 h-3.9 M137.3 449.2 h-3.9 M137.3 431.2 h-7.9 M137.3 413.1 h-3.9 M137.3 395.1 h-3.9 M137.3 377.0 h-3.9 M137.3 359.0 h-7.9 M137.3 340.9 h-3.9 M137.3 322.9 h-3.9 M137.3 304.8 h-3.9 M137.3 286.8 h-7.9"/>
</g>
<g font-size="24.5">
<text x="125.3" y="655.7" text-anchor="end">0.0</text>
<text x="125.3" y="583.5" text-anchor="end">0.1</text>
<text x="125.3" y="511.3" text-anchor="end">0.2</text>
<text x="125.3" y="439.2" text-anchor="end">0.3</text>
<text x="125.3" y="367.0" text-anchor="end">0.4</text>
<text x="125.3" y="294.8" text-anchor="end">0.5</text>
<text x="153.2" y="694.7" text-anchor="middle">0.0</text>
<text x="252.6" y="694.7" text-anchor="middle">0.2</text>
<text x="352.0" y="694.7" text-anchor="middle">0.4</text>
<text x="451.4" y="694.7" text-anchor="middle">0.6</text>
<text x="550.8" y="694.7" text-anchor="middle">0.8</text>
</g>
<text x="372.7" y="737.3" font-size="24.5">T</text>
<text x="392.2" y="737.3" font-size="24.5">/</text>
<text x="402.9" y="737.3" font-size="24.5">T</text>
<text x="417.7" y="746.5" font-size="14.3">D</text>
<text x="421.7" y="726.0" font-size="14.3">0</text>
<text x="163.4" y="317.1" font-size="24.5">p</text>
<text x="181.1" y="317.1" font-size="24.5">a</text>
<text x="195.4" y="306.3" font-size="14.3">3</text>
<text x="198.7" y="325.6" font-size="14.3">0</text>
<text x="214.0" y="317.1" font-size="24.5">/</text>
<text x="227.8" y="317.1" font-size="24.5">(</text>
<text x="240.3" y="317.1" font-size="24.5">k</text>
<text x="256.4" y="325.6" font-size="14.3">B</text>
<text x="266.2" y="317.1" font-size="24.5">T</text>
<text x="281.8" y="325.6" font-size="14.3">D</text>
<text x="285.7" y="306.3" font-size="14.3">0</text>
<text x="296.9" y="317.1" font-size="24.5">)</text>
<text x="311.2" y="317.1" font-size="24.5">:</text>
<g fill="none">
<path d="M163.6 346.4 H214" stroke="#0000ff" stroke-width="4.8" stroke-linecap="round" stroke-dasharray="0 7.06"/>
<path d="M163.5 376.5 H214" stroke="#008000" stroke-width="3.3" stroke-linecap="round" stroke-linejoin="round" stroke-dasharray="4.2 7.2"/>
<path d="M162.2 406.6 H219.6" stroke="#000000" stroke-width="3.3" stroke-linejoin="miter"/>
<path d="M162.5 436.7 H215.8" stroke="#ff0000" stroke-width="2.4" stroke-linejoin="round" stroke-dasharray="7.6 2 2.2 2.2"/>
<path d="M162.5 466.8 H219" stroke="#ff8000" stroke-width="2" stroke-linejoin="round" stroke-dasharray="9.4 8.25"/>
</g>
<text x="280.8" y="355.0" font-size="24.5" text-anchor="end">-100</text>
<text x="280.8" y="385.1" font-size="24.5" text-anchor="end">-50</text>
<text x="280.8" y="415.2" font-size="24.5" text-anchor="end">0</text>
<text x="280.8" y="445.3" font-size="24.5" text-anchor="end">50</text>
<text x="280.8" y="475.4" font-size="24.5" text-anchor="end">100</text>
<text x="468.5" y="312.4" font-size="24.5">J</text>
<text x="480.8" y="301.1" font-size="14.3">d</text>
<text x="480.0" y="320.9" font-size="14.3">0</text>
<text x="492.0" y="312.4" font-size="24.5">/</text>
<text x="503.3" y="312.4" font-size="24.5">(</text>
<text x="516.2" y="312.4" font-size="24.5">k</text>
<text x="531.3" y="320.9" font-size="14.3">B</text>
<text x="541.7" y="312.4" font-size="24.5">T</text>
<text x="557.0" y="320.9" font-size="14.3">D</text>
<text x="561.2" y="301.1" font-size="14.3">0</text>
<text x="572.9" y="312.4" font-size="24.5">)</text>
<text x="475.6" y="353.3" font-size="24.5">D</text>
<text x="498.2" y="353.3" font-size="24.5">/</text>
<text x="508.7" y="353.3" font-size="24.5">(</text>
<text x="521.6" y="353.3" font-size="24.5">k</text>
<text x="536.7" y="361.8" font-size="14.3">B</text>
<text x="547.1" y="353.3" font-size="24.5">T</text>
<text x="562.4" y="361.8" font-size="14.3">D</text>
<text x="566.6" y="342.0" font-size="14.3">0</text>
<text x="578.3" y="353.3" font-size="24.5">)</text>
<text x="439.0" y="619.0" font-size="24.5">N</text>
<text x="456.3" y="626.8" font-size="14.3">el</text>
<text x="472.3" y="619.0" font-size="24.5">/</text>
<text x="482.9" y="619.0" font-size="24.5">N</text>
<text x="508.1" y="619.0" font-size="24.5">=</text>
<text x="529.0" y="619.0" font-size="24.5">1</text>
<text x="542.7" y="619.0" font-size="24.5">.</text>
<text x="548.9" y="619.0" font-size="24.5">0</text>
<text x="569.7" y="619.0" font-size="24.5">(</text>
<text x="578.1" y="619.0" font-size="24.5">A</text>
<rect x="112.27" y="581.32" width="5.2" height="3.4" fill="#fff"/>
<rect x="120.17" y="581.32" width="4.6" height="3.4" fill="#fff"/>
<rect x="240.52" y="352.80" width="5.2" height="3.4" fill="#fff"/>
<rect x="248.42" y="352.80" width="4.6" height="3.4" fill="#fff"/>
<rect x="240.52" y="473.20" width="5.2" height="3.4" fill="#fff"/>
<rect x="248.42" y="473.20" width="4.6" height="3.4" fill="#fff"/>
<rect x="529.60" y="616.80" width="5.2" height="3.4" fill="#fff"/>
<rect x="537.50" y="616.80" width="4.6" height="3.4" fill="#fff"/>
<g transform="rotate(-90)">
<text x="-532.5" y="65.3" font-size="24.5">k</text>
<text x="-515.9" y="73.8" font-size="14.3">B</text>
<text x="-505.9" y="65.3" font-size="24.5">T</text>
<text x="-491.3" y="73.8" font-size="14.3">D</text>
<text x="-487.5" y="53.4" font-size="14.3">0</text>
<text transform="translate(-469.2,66.6) scale(1,1.12)" x="0" y="0" font-size="21.2" style="font-family:'DejaVu Serif','Liberation Serif',serif;stroke:none">χ</text>
<text x="-452.2" y="73.6" font-size="14.3">T</text>
<text x="-443.1" y="73.6" font-size="14.3">,</text>
<text x="-438.4" y="73.6" font-size="14.3">p</text>
</g>
</svg>
</body></html>
